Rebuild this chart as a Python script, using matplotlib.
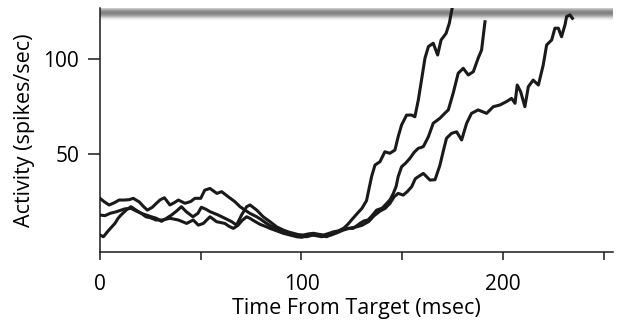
import numpy as np
import matplotlib.pyplot as plt

# firing-rate traces (time from target in ms, activity in spikes/sec)
fast_t = [0, 2.5, 5, 8, 10.5, 12.5, 15.5, 18, 20.5, 23, 25.5, 28, 30.5, 33, 35.5, 38,
          40.4, 42.8, 46.1, 48.6, 50.3, 52.5, 54.6, 58.7, 62, 65.4, 67.8, 70.3, 72.8,
          74.5, 77.8, 81, 84.4, 87.7, 91, 93.5, 96, 98.5, 101, 103.5, 106, 108.5, 111,
          113.5, 116, 118.5, 121, 123, 125, 127.5, 130, 132.3, 134.8, 136.5, 139, 141.4,
          143.9, 146.4, 148, 149.7, 152.2, 154.7, 156.3, 158, 159.6, 161.3, 163, 165.4,
          167.6, 169.3, 171.8, 173.4, 174.3, 174.8]
fast_v = [17.9, 17.6, 18.8, 19.6, 20.5, 21.2, 21.4, 20.0, 18.8, 17.9, 17.0, 16.2, 14.6,
          16.2, 17.9, 20.0, 22.3, 19.7, 17.0, 18.8, 22.0, 21.0, 19.7, 17.9, 16.2, 14.4,
          12.6, 18.0, 22.3, 23.2, 20.5, 17.0, 14.4, 11.7, 10.0, 9.0, 8.3, 7.6, 7.4, 8.0,
          8.3, 7.8, 7.4, 8.2, 9.1, 9.6, 11.0, 13.0, 15.5, 18.5, 21.4, 25.5, 38.1, 44.2,
          46.0, 51.2, 50.4, 52.1, 59.1, 65.3, 70.5, 70.5, 69.6, 78.4, 89.0, 100.4, 106.5,
          108.3, 102.1, 110.0, 113.5, 118.8, 124.0, 126.7]

mid_t = [0, 2, 4.5, 7, 9.5, 12, 14.5, 16.5, 19.5, 21.5, 23.5, 26, 28, 30, 32, 34.7, 37,
         38.9, 42.2, 45, 47.1, 50, 52, 54.6, 58, 60.4, 63.7, 67, 69.5, 72, 74.4, 77.8, 80,
         82.7, 85, 87.7, 90, 92.6, 95, 97.6, 100, 102.6, 105, 107.5, 110, 112.5, 115,
         117.5, 120, 122.4, 125.7, 129, 131, 133, 135, 137.3, 140, 142.3, 144, 145.6, 147,
         148, 149.7, 151.5, 153.8, 156, 158, 160.5, 163, 165.4, 168.7, 171.2, 172.9,
         175.3, 177.8, 180.3, 182.8, 185.3, 187.7, 189.4, 190.2, 191.1]
mid_v = [26.7, 25.0, 23.2, 24.3, 25.8, 25.8, 26.0, 26.7, 24.8, 22.5, 20.5, 22.0, 24.1,
         26.0, 27.0, 23.2, 24.5, 25.8, 24.1, 25.0, 26.7, 26.7, 31.0, 31.9, 29.3, 30.2,
         27.5, 24.9, 22.3, 20.5, 18.8, 17.0, 15.5, 13.5, 12.0, 10.9, 10.0, 9.1, 8.2, 7.4,
         6.8, 6.5, 7.2, 7.7, 7.0, 6.5, 7.8, 9.1, 10.2, 10.9, 10.9, 13.5, 14.8, 15.3, 17.5,
         20.5, 21.5, 24.0, 26.0, 29.3, 33.0, 38.1, 43.3, 45.0, 47.7, 51.0, 53.0, 53.9,
         59.1, 66.2, 68.8, 71.5, 73.2, 82.0, 92.5, 95.1, 91.6, 93.3, 100.4, 104.7, 111.7,
         119.6]

slow_t = [0, 1.7, 4, 7.4, 9, 10.4, 13, 15.4, 17.9, 20.5, 22.8, 25, 27.8, 31.1, 34.7, 38.9,
          43, 46.3, 48.8, 51.3, 54.6, 57.9, 62, 64, 66.2, 68.5, 70.5, 72.8, 74.4, 77, 79.5,
          82, 84.4, 87.7, 91, 94.3, 97.6, 100, 102.5, 105, 107.5, 110, 112.5, 114.7, 117.5,
          120.8, 124, 127.4, 130, 133.4, 136, 139, 141.5, 143.9, 146, 148, 150.5, 152.5,
          154.7, 156.5, 158, 160.5, 163.8, 166.3, 168.7, 170.5, 172, 174.5, 177, 179.5,
          182, 184.4, 187.7, 191.9, 195.2, 198.5, 201.8, 204.3, 206, 207.1, 208.8, 210.9,
          212.6, 215, 217.6, 220, 221.7, 224.2, 225.8, 227.5, 229.1, 230.8, 231.6, 233.3,
          234.5]
slow_v = [7.4, 6.5, 9.5, 13.5, 16.2, 17.9, 20.5, 22.3, 20.5, 18.8, 17.0, 16.5, 15.3, 15.3,
          16.2, 15.3, 13.5, 15.3, 12.6, 13.5, 17.0, 14.4, 13.5, 12.0, 10.9, 12.5, 15.0,
          17.0, 16.2, 14.5, 13.0, 12.0, 10.9, 9.6, 8.3, 7.4, 6.5, 6.2, 6.8, 7.5, 7.0, 6.5,
          7.2, 7.4, 8.5, 10.0, 11.0, 11.7, 12.5, 14.5, 17.5, 20.0, 21.4, 24.0, 27.5, 29.3,
          28.4, 30.2, 32.8, 37.0, 38.1, 39.8, 36.3, 36.5, 44.0, 52.0, 58.3, 60.9, 61.7,
          57.4, 66.2, 71.4, 73.2, 71.4, 74.9, 75.8, 77.6, 79.3, 76.7, 86.3, 82.8, 74.9,
          85.4, 88.9, 86.3, 96.8, 107.4, 110.0, 116.2, 116.2, 111.7, 117.9, 122.3, 123.2,
          121.4]

threshold = 123.7

plt.rcParams['font.family'] = ['Open Sans', 'DejaVu Sans']

fig = plt.figure(figsize=(6.21, 3.22), dpi=100)
ax = fig.add_axes([0.161, 0.217, 0.826, 0.758])
ax.set_xlim(0, 254.6)
ax.set_ylim(-1.6, 126.8)

# soft grey threshold band
profile = np.array([0.92, 0.80, 0.66, 0.55, 0.50, 0.52, 0.60, 0.72, 0.86, 0.95])
band = np.tile(profile[:, None], (1, 2))
ax.imshow(band, cmap='gray', vmin=0, vmax=1, aspect='auto', interpolation='bicubic',
          extent=[0, 254.6, threshold - 3.4, threshold + 3.4], zorder=1)

for t, v in [(fast_t, fast_v), (mid_t, mid_v), (slow_t, slow_v)]:
    ax.plot(t, v, color='#1a1a1a', lw=2.2, solid_joinstyle='round', zorder=2)

for side in ['top', 'right']:
    ax.spines[side].set_visible(False)
for side in ['left', 'bottom']:
    ax.spines[side].set_linewidth(1.1)
    ax.spines[side].set_color('#1a1a1a')

ax.set_xticks([0, 50, 100, 150, 200, 250])
ax.set_xticklabels(['0', '', '100', '', '200', ''])
ax.set_yticks([50, 100])
ax.tick_params(axis='x', length=6, width=1.1, labelsize=15, pad=10, color='#1a1a1a')
ax.tick_params(axis='y', length=9, width=1.1, labelsize=15, pad=6, color='#1a1a1a')
ax.set_xlabel('Time From Target (msec)', fontsize=15.5, labelpad=2)
ax.set_ylabel('Activity (spikes/sec)', fontsize=15.5, labelpad=6)

fig.savefig('out.png', dpi=100)
